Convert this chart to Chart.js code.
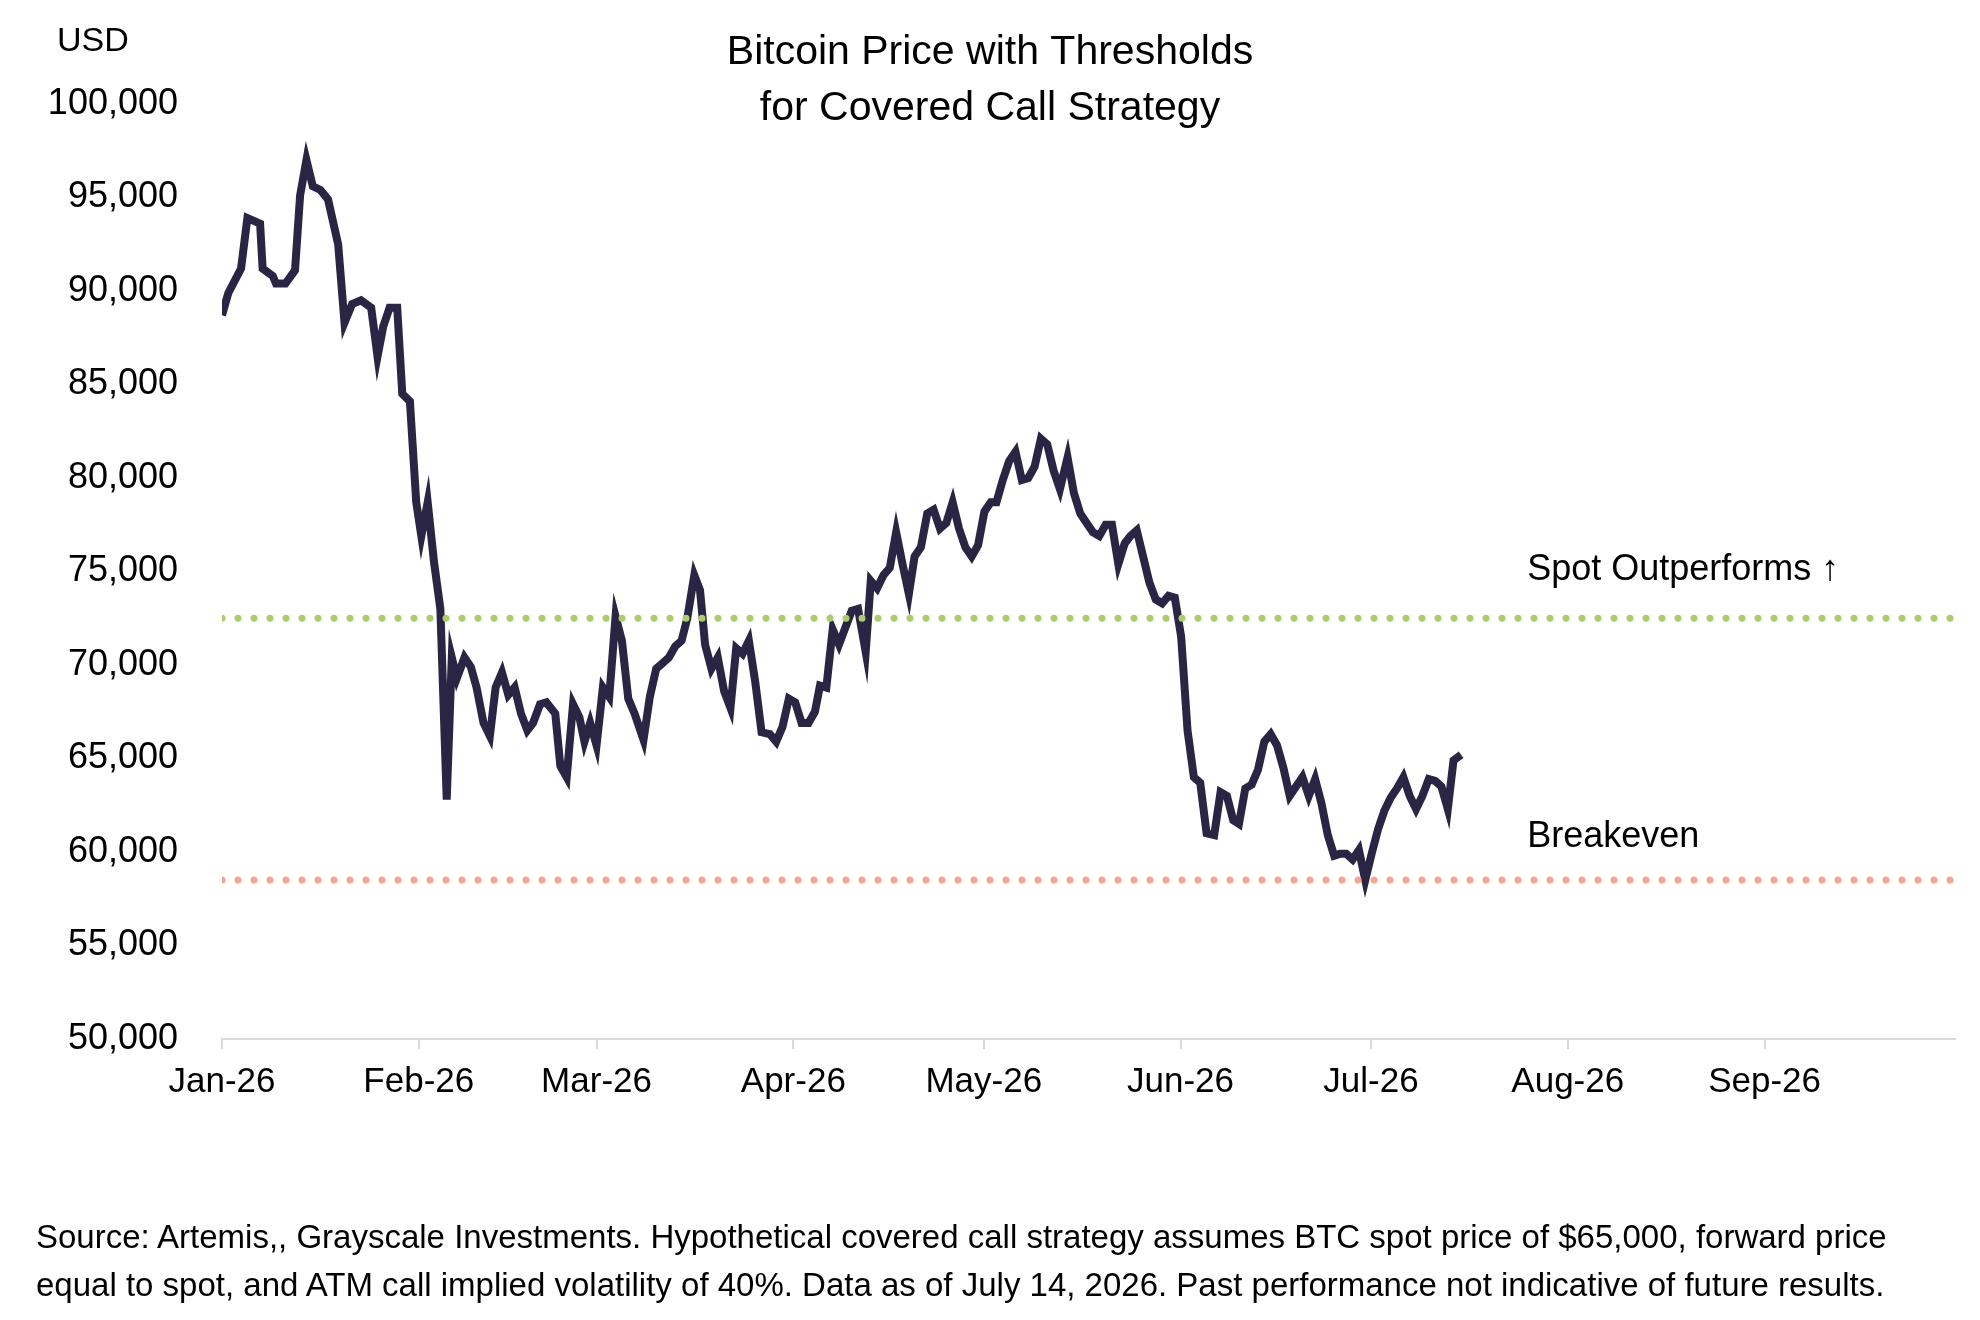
<!DOCTYPE html>
<html>
<head>
<meta charset="utf-8">
<script src="https://cdn.jsdelivr.net/npm/chart.js@4.4.1/dist/chart.umd.min.js"></script>
<style>
  body { margin:0; background:#fff; }
  #wrap { position:relative; width:1980px; height:1320px; }
  #foot { position:absolute; left:36px; top:1213px; width:1944px; font-family:'Liberation Sans',Arial,sans-serif; font-size:33px; line-height:48px; color:#000; white-space:nowrap; }
</style>
</head>
<body>
<div id="wrap">
<canvas id="myChart" width="1980" height="1320"></canvas>
<div id="foot">Source: Artemis,, Grayscale Investments. Hypothetical covered call strategy assumes BTC spot price of $65,000, forward price<br>equal to spot, and ATM call implied volatility of 40%. Data as of July 14, 2026. Past performance not indicative of future results.</div>
</div>
<script>
// day offsets from Jan 1 2026 and BTC price
const days = [0,1,3,4,6,6.4,8,8.5,10,11.5,12.3,13.3,14.3,15.5,16.7,18.3,19.3,20.5,21.9,23.5,24.5,25.4,26.4,27.6,28.4,29.6,30.6,31.4,32.4,33.4,34.4,35.4,36.2,37,38.2,39.2,40.1,41.2,42.2,43.1,44.1,45.1,46.1,47.1,48.1,49,50.1,51.1,52.5,53.3,54.3,55.3,56.3,57.1,58,59,60,61,62,63,64,65,66.4,67.4,68.4,69.4,70.4,71.4,72.4,73.3,74.4,75.3,76.1,77.1,78.1,79.1,80.1,81,82,83,84,85,86.3,87.3,88.3,89.3,90.3,91.3,92.4,93.4,94.2,95.2,96.2,97.2,98.2,99.2,100.2,101.4,102.2,103.2,104.2,105.2,106.2,107.2,108.2,109.1,110.1,111.1,112.1,113.1,114.1,115.1,116.1,117.1,118.1,119.1,120.1,121.1,122,123,124,125,126,127,128,129,130,131,132,133.2,134.2,135.2,136.2,137.2,138.2,139.2,140.2,141.2,142.2,143.1,144.1,145.1,146.1,147.1,148.1,149.1,150.1,151.1,152.1,153.1,154.1,155.1,156.3,157.3,158.3,159.3,160.2,161.2,162.2,163.2,164.2,165.2,166.2,167.2,168.2,169.2,170.2,171.2,172.2,173.2,174.2,175.2,176.1,177.1,178.1,179.1,180.1,181.1,182.1,183.1,184.1,185.1,186.1,187.1,188.1,189.1,190.1,191.1,192.1,193.1,194,195.2];
const prices = [88.7,89.9,91.2,93.9,93.6,91.2,90.8,90.4,90.4,91.1,95.1,97.0,95.6,95.4,94.9,92.5,88.3,89.3,89.5,89.1,86.5,88.1,89.1,89.1,84.5,84.1,78.7,76.9,78.7,75.5,73.0,62.8,70.4,69.3,70.4,69.9,68.8,66.9,66.2,68.8,69.6,68.4,68.8,67.4,66.5,66.9,67.9,68.0,67.4,64.6,64.0,67.9,67.2,65.9,66.9,65.7,68.8,68.3,72.6,71.3,68.2,67.4,66.0,68.3,69.8,70.1,70.4,71.0,71.3,72.5,74.8,74.0,71.1,69.8,70.4,68.6,67.7,70.9,70.6,71.3,69.1,66.4,66.3,65.9,66.7,68.2,68.0,66.9,66.9,67.5,68.9,68.8,71.9,71.1,72.0,72.9,73.0,70.7,74.5,74.1,74.8,75.2,77.1,75.4,73.8,75.8,76.3,78.1,78.3,77.3,77.6,78.7,77.3,76.3,75.8,76.4,78.2,78.7,78.7,79.9,80.9,81.4,79.9,80.0,80.6,82.1,81.8,80.4,79.4,81.1,79.2,78.1,77.6,77.1,76.9,77.5,77.5,75.4,76.5,76.9,77.2,75.8,74.4,73.5,73.3,73.7,73.6,71.5,66.5,64.0,63.7,61.0,60.9,63.2,63.0,61.7,61.5,63.4,63.6,64.4,65.9,66.3,65.7,64.5,63.0,63.5,64.0,63.0,63.9,62.6,60.9,59.8,59.9,59.9,59.6,60.1,58.5,59.9,61.2,62.2,62.9,63.4,64.0,63.0,62.3,63.0,63.9,63.8,63.5,62.3,64.9,65.2].map(v => v * 1000);
const monthTicks = [0,31,59,90,120,151,181,212,243];
const monthLabels = ['Jan-26','Feb-26','Mar-26','Apr-26','May-26','Jun-26','Jul-26','Aug-26','Sep-26'];
const spotLevel = 72500;
const breakevenLevel = 58500;
const xMax = 273;

const font = "'Liberation Sans', Arial, sans-serif";

const extras = {
  id: 'extras',
  afterDraw(chart) {
    const c = chart.ctx, x = chart.scales.x, y = chart.scales.y;
    c.save();
    c.fillStyle = '#000';
    c.font = '41px ' + font;
    c.textAlign = 'center';
    c.textBaseline = 'middle';
    c.fillText('Bitcoin Price with Thresholds', 990, 53);
    c.fillText('for Covered Call Strategy', 990, 109);
    c.font = '34px ' + font;
    c.textAlign = 'left';
    c.fillText('USD', 57, 42);
    c.font = '36px ' + font;
    c.fillText('Spot Outperforms \u2191', x.getPixelForValue(205.6), y.getPixelForValue(75100));
    c.fillText('Breakeven', x.getPixelForValue(205.6), y.getPixelForValue(60800));
    c.restore();
  }
};

const dotted = (level, color) => ({
  data: [{x: 0, y: level}, {x: xMax, y: level}],
  borderColor: color,
  borderWidth: 7,
  borderDash: [0, 16],
  borderCapStyle: 'round',
  pointRadius: 0
});

new Chart(document.getElementById('myChart'), {
  type: 'line',
  data: {
    datasets: [
      dotted(spotLevel, '#a9cf6a'),
      dotted(breakevenLevel, '#f7a68e'),
      {
        data: days.map((d, i) => ({x: d, y: prices[i]})),
        borderColor: '#2b2545',
        borderWidth: 8,
        pointRadius: 0,
        tension: 0
      }
    ]
  },
  options: {
    responsive: false,
    animation: false,
    layout: { padding: { top: 104, right: 25, bottom: 160, left: 0 } },
    plugins: { legend: { display: false }, tooltip: { enabled: false } },
    scales: {
      x: {
        type: 'linear', min: 0, max: xMax,
        afterBuildTicks: s => { s.ticks = monthTicks.map(v => ({value: v})); },
        afterFit: s => { s.height = 121; },
        grid: { drawOnChartArea: false, color: '#d9d9d9', tickLength: 10, lineWidth: 2 },
        border: { color: '#d9d9d9', width: 2 },
        ticks: {
          callback: v => monthLabels[monthTicks.indexOf(v)],
          font: { size: 35, family: font }, color: '#000', padding: 12, maxRotation: 0
        }
      },
      y: {
        min: 50000, max: 100000,
        afterFit: s => { s.width = 222; },
        grid: { display: false },
        border: { display: false },
        ticks: {
          stepSize: 5000,
          callback: v => v.toLocaleString('en-US'),
          font: { size: 36, family: font }, color: '#000', padding: 36
        }
      }
    }
  },
  plugins: [extras]
});
</script>
</body>
</html>
